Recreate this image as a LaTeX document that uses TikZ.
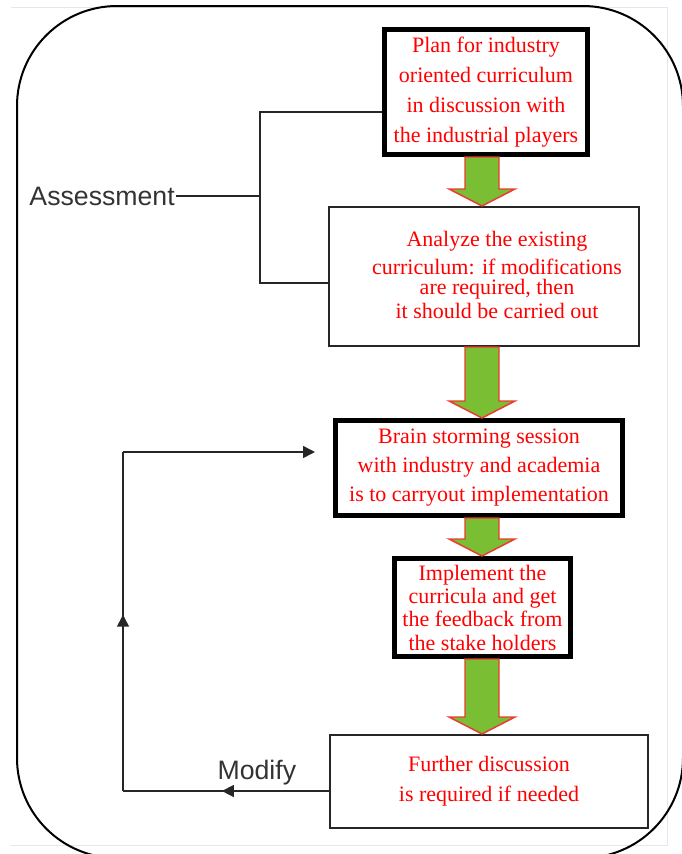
\documentclass[tikz,border=0pt]{standalone}
\usepackage{fontspec}
\setmainfont{Liberation Serif}
\setsansfont{Liberation Sans}
\usepackage{tikz}
\usetikzlibrary{arrows.meta}
\usetikzlibrary{decorations.markings,calc}
\usetikzlibrary{positioning}

\definecolor{arrowgreen}{RGB}{122,190,52}
\definecolor{arrowred}{RGB}{236,58,48}
\definecolor{framegray}{RGB}{224,231,241}

\tikzset{
  redtxt/.style={text=red, font=\fontsize{16.5}{22.5}\selectfont, align=center},
  boldbox/.style={draw, line width=3.75pt, fill=white, redtxt, inner sep=0pt},
  thinbox/.style={draw=black!85, line width=1.5pt, fill=white, redtxt, inner sep=0pt},
  labeltxt/.style={font=\sffamily\fontsize{20}{24}\selectfont, text=black!80, inner sep=0.75pt},
  flow/.style={line width=1.1pt, black!85},
  blockarrow/.style={fill=arrowgreen, draw=arrowred, line width=1.1pt, line join=miter},
  midarrow/.style={postaction={decorate},
    decoration={markings, mark=at position #1 with {\arrow{Triangle[length=9pt,width=9pt]}}}}
}

% green block arrow between two boxes, on the spine
\newcommand{\greenarrow}[2]{%
  \draw[blockarrow] ($(#1.south -| spine)+(-17,0)$) -- ($(#1.south -| spine)+(17,0)$)
    -- ($(#2.north -| spine)+(17,-17)$) -- ($(#2.north -| spine)+(33,-17)$)
    -- (#2.north -| spine) -- ($(#2.north -| spine)+(-33,-17)$)
    -- ($(#2.north -| spine)+(-17,-17)$) -- cycle;}

\begin{document}
\begin{tikzpicture}[x=0.75pt,y=0.75pt,yscale=-1,xscale=1]
  \useasboundingbox (0,0) rectangle (682,854);
  \clip (0,0) rectangle (682,854);

  % screenshot frame and outer rounded border
  \draw[framegray, line width=0.75pt] (11,7) -- (667,7) -- (667,845) -- (11,845);
  \draw[line width=1.5pt, rounded corners=75pt] (17,6) rectangle (683,858);

  % the boxes
  \node[boldbox, minimum width=152.25pt, minimum height=93.75pt] (plan) at (486,92)
    {Plan for industry\\ oriented curriculum\\ in discussion with\\ the industrial players};
  \node[thinbox, minimum width=233pt, minimum height=104.25pt] (analyze) at (484,276.5)
    {\hspace*{19.5pt}\begin{tabular}{@{}c@{}}Analyze the existing\\[-1.5pt]
     curriculum: if modifications\\[-7.5pt] are required, then\\[-4.5pt]
     it should be carried out\end{tabular}};
  \node[boldbox, minimum width=215.25pt, minimum height=71.25pt,
        font=\fontsize{16.5}{21.75}\selectfont] (brain) at (479,468)
    {Brain storming session\\ with industry and academia\\ is to carryout implementation};
  \node[boldbox, minimum width=132pt, minimum height=73.5pt,
        font=\fontsize{16.5}{17.5}\selectfont] (implement) at (482.5,607.5)
    {Implement the\\ curricula and get\\ the feedback from\\ the stake holders};
  \node[thinbox, minimum width=238.5pt, minimum height=69.75pt] (further) at (489,781.5)
    {Further discussion\\ is required if needed};

  % green arrows
  \coordinate (spine) at (482,0);
  \greenarrow{plan}{analyze}
  \greenarrow{analyze}{brain}
  \greenarrow{brain}{implement}
  \greenarrow{implement}{further}

  % assessment bracket
  \node[labeltxt, anchor=east] (assess) at (176,196) {Assessment};
  \coordinate (brtop) at (260,112);
  \coordinate (brbot) at (260,283);
  \draw[flow] (plan.west |- brtop) -- (brtop) -- (brbot) -- (analyze.west |- brbot);
  \draw[flow] (assess.east) -- (assess.east -| brtop);

  % modify loop
  \coordinate (loopbot) at (123,791);
  \coordinate (looptop) at (123,452);
  \draw[flow, midarrow=0.52] (further.west |- loopbot) -- (loopbot)
    node[labeltxt, pos=0.35, above=3pt] (modify) {Modify};
  \draw[flow, midarrow=0.52] (loopbot) -- (looptop);
  \draw[flow, -{Triangle[length=9pt,width=9pt]}, shorten >=13.5pt] (looptop) -- (brain.west |- looptop);

\end{tikzpicture}
\end{document}
